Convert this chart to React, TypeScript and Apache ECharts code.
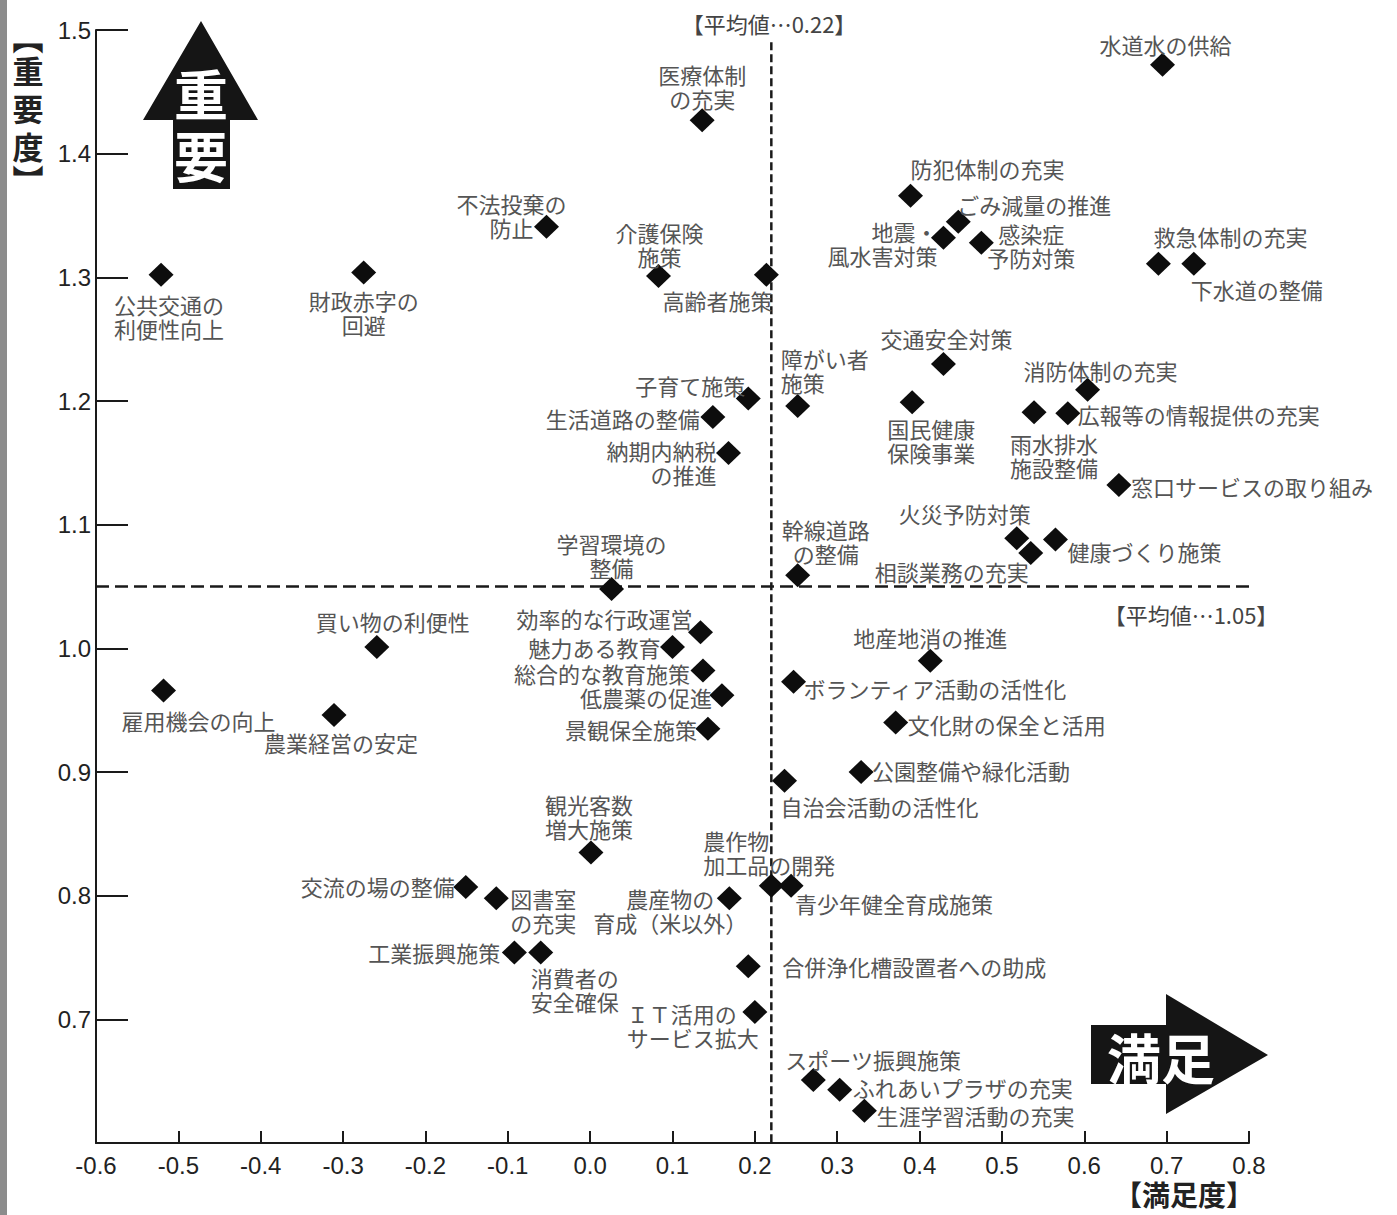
import React, { useEffect, useRef } from "react";
import * as echarts from "echarts";

// ---- data ----
const names: string[] = [
  "公共交通の\n利便性向上", "財政赤字の\n回避", "不法投棄の\n防止", "医療体制\nの充実", "介護保険\n施策",
  "高齢者施策", "水道水の供給", "防犯体制の充実", "ごみ減量の推進", "地震・\n風水害対策",
  "感染症\n予防対策", "救急体制の充実", "下水道の整備", "交通安全対策", "消防体制の充実",
  "障がい者\n施策", "国民健康\n保険事業", "雨水排水\n施設整備", "広報等の情報提供の充実", "子育て施策",
  "生活道路の整備", "納期内納税\nの推進", "窓口サービスの取り組み", "火災予防対策", "健康づくり施策",
  "相談業務の充実", "幹線道路\nの整備", "学習環境の\n整備", "買い物の利便性", "効率的な行政運営",
  "魅力ある教育", "総合的な教育施策", "低農薬の促進", "景観保全施策", "雇用機会の向上",
  "農業経営の安定", "地産地消の推進", "ボランティア活動の活性化", "文化財の保全と活用", "公園整備や緑化活動",
  "自治会活動の活性化", "観光客数\n増大施策", "交流の場の整備", "図書室\nの充実", "農産物の\n育成（米以外）",
  "農作物\n加工品の開発", "青少年健全育成施策", "工業振興施策", "消費者の\n安全確保", "合併浄化槽設置者への助成",
  "ＩＴ活用の\nサービス拡大", "スポーツ振興施策", "ふれあいプラザの充実", "生涯学習活動の充実",
];

// 満足度 (x)
const satisfaction: number[] = [
  -0.521, -0.275, -0.053, 0.136, 0.083,
  0.214, 0.695, 0.389, 0.447, 0.429,
  0.475, 0.690, 0.733, 0.429, 0.604,
  0.252, 0.391, 0.539, 0.580, 0.192,
  0.149, 0.168, 0.642, 0.518, 0.565,
  0.535, 0.252, 0.026, -0.259, 0.134,
  0.100, 0.137, 0.160, 0.143, -0.518,
  -0.311, 0.413, 0.247, 0.371, 0.329,
  0.236, 0.001, -0.151, -0.114, 0.169,
  0.220, 0.244, -0.092, -0.060, 0.192,
  0.200, 0.271, 0.303, 0.333,
];

// 重要度 (y)
const importance: number[] = [
  1.302, 1.304, 1.341, 1.427, 1.301,
  1.302, 1.472, 1.366, 1.345, 1.332,
  1.328, 1.311, 1.311, 1.230, 1.209,
  1.196, 1.199, 1.191, 1.190, 1.202,
  1.187, 1.158, 1.132, 1.089, 1.088,
  1.077, 1.059, 1.048, 1.001, 1.013,
  1.001, 0.982, 0.962, 0.935, 0.966,
  0.946, 0.990, 0.973, 0.940, 0.900,
  0.893, 0.835, 0.807, 0.798, 0.798,
  0.808, 0.808, 0.754, 0.754, 0.743,
  0.706, 0.651, 0.643, 0.626,
];

const satisfactionMean = 0.22;
const importanceMean = 1.05;
const meanLabelX = "【平均値…0.22】";
const meanLabelY = "【平均値…1.05】";

// ---- label placement (layout only) : [dx, dy, align] ----
const labelPlacement: [number, number, string][] = [
  [8, 41, "center"], [0, 40, "center"], [-35, -12, "center"], [0, -34, "center"], [1, -32, "center"],
  [-49, 25, "center"], [3, -21, "center"], [77, -28, "center"], [76, -18, "center"], [-6, 5, "right"],
  [50, 2, "center"], [72, -28, "center"], [63, 25, "center"], [3, -26, "center"], [13, -20, "center"],
  [-17, -36, "left"], [19, 38, "center"], [20, 43, "center"], [10, 1, "left"], [-3, -14, "right"],
  [-13, 1, "right"], [-12, 9, "right"], [12, 1, "left"], [-52, -25, "center"], [12, 11, "left"],
  [-2, 18, "right"], [28, -34, "center"], [0, -34, "center"], [16, -26, "center"], [-8, -14, "right"],
  [-12, 0, "right"], [-13, 2, "right"], [-10, 2, "right"], [-11, 0, "right"], [35, 30, "center"],
  [7, 27, "center"], [0, -24, "center"], [10, 6, "left"], [12, 1, "left"], [11, -2, "left"],
  [-4, 25, "left"], [-2, -36, "center"], [-11, -1, "right"], [14, 12, "left"], [-59, 12, "center"],
  [-68, -34, "left"], [4, 17, "left"], [-14, -1, "right"], [34, 36, "center"], [34, 0, "left"],
  [-128, 13, "left"], [-28, -21, "left"], [13, -3, "left"], [12, 4, "left"],
];

const fmt = (v: number) => (Math.abs(v) < 1e-9 ? "0.0" : v.toFixed(1));

export default function App() {
  const ref = useRef<HTMLDivElement>(null);

  useEffect(() => {
    document.body.style.margin = "0";
    if (!ref.current) return;
    const chart = echarts.init(ref.current, null, { renderer: "svg" });

    const scatterData = names.map((n, i) => {
      const [dx, dy, align] = labelPlacement[i];
      return {
        name: n,
        value: [satisfaction[i], importance[i]],
        label: {
          show: true,
          position: "inside",
          offset: [dx, dy],
          align,
          verticalAlign: "middle",
        },
      };
    });

    const labelFont = '"Noto Sans CJK JP", sans-serif';
    const boldCJK = 'bold 54px "Noto Sans CJK JP", sans-serif';

    chart.setOption({
      animation: false,
      backgroundColor: "#ffffff",
      grid: { left: 96, right: 148, top: 30, bottom: 72, containLabel: false },
      xAxis: {
        type: "value",
        min: -0.6,
        max: 0.8,
        interval: 0.1,
        axisLine: { show: true, onZero: false, lineStyle: { color: "#1a1a1a", width: 2 } },
        axisTick: { show: true, inside: true, length: 12, lineStyle: { color: "#1a1a1a", width: 2 } },
        splitLine: { show: false },
        axisLabel: {
          margin: 10,
          fontSize: 24,
          fontFamily: '"Liberation Sans", Arial, sans-serif',
          color: "#222",
          formatter: (v: number) => fmt(v),
        },
      },
      yAxis: {
        type: "value",
        min: 0.6,
        max: 1.5,
        interval: 0.1,
        axisLine: { show: true, onZero: false, lineStyle: { color: "#1a1a1a", width: 2 } },
        axisTick: { show: true, inside: true, length: 32, lineStyle: { color: "#1a1a1a", width: 2 } },
        splitLine: { show: false },
        axisLabel: {
          margin: 5,
          fontSize: 24,
          fontFamily: '"Liberation Sans", Arial, sans-serif',
          color: "#222",
          formatter: (v: number) => (Math.abs(v - 0.6) < 1e-6 ? "" : fmt(v)),
        },
      },
      series: [
        {
          type: "line",
          silent: true,
          symbol: "none",
          data: [
            [satisfactionMean, 1.49],
            [satisfactionMean, 0.6],
          ],
          lineStyle: { color: "#1a1a1a", width: 2.5, type: [8, 4] },
          z: 1,
        },
        {
          type: "line",
          silent: true,
          symbol: "none",
          data: [
            [-0.6, importanceMean],
            [0.8, importanceMean],
          ],
          lineStyle: { color: "#1a1a1a", width: 2.5, type: [13, 6] },
          z: 1,
        },
        {
          type: "scatter",
          symbol: "diamond",
          symbolSize: [25, 24],
          itemStyle: { color: "#0d0d0d", opacity: 1 },
          label: {
            show: true,
            formatter: "{b}",
            fontSize: 22,
            lineHeight: 24,
            fontFamily: labelFont,
            color: "#555",
          },
          data: scatterData,
          z: 3,
        },
      ],
      graphic: [
        // left grey strip
        { type: "rect", shape: { x: 0, y: 0, width: 7, height: 1215 }, style: { fill: "#8c8c8c" }, silent: true },
        // up arrow 重要
        {
          type: "polygon",
          shape: { points: [[201, 21], [258, 120], [230, 120], [230, 189], [173, 189], [173, 120], [143, 120]] },
          style: { fill: "#151515" },
          silent: true,
        },
        { type: "text", x: 201, y: 123, style: { text: "重\n要", fill: "#fff", font: boldCJK, lineHeight: 62, textAlign: "center", textVerticalAlign: "middle" }, silent: true },
        // right arrow 満足
        {
          type: "polygon",
          shape: { points: [[1091, 1025], [1166, 1025], [1166, 994], [1268, 1055], [1166, 1114], [1166, 1084], [1091, 1084]] },
          style: { fill: "#151515" },
          silent: true,
        },
        { type: "text", x: 1161, y: 1056, style: { text: "満足", fill: "#fff", font: boldCJK, textAlign: "center", textVerticalAlign: "middle" }, silent: true },
        // y axis name (vertical)
        {
          type: "text",
          x: 28,
          y: 107,
          style: {
            text: "{b|︻}\n{k|重}\n{k|要}\n{k|度}\n{b|︼}",
            fill: "#222",
            font: 'bold 31px "Noto Sans CJK JP", sans-serif',
            textAlign: "center",
            textVerticalAlign: "middle",
            rich: {
              b: { fontSize: 31, fontWeight: "bold", fontFamily: '"Noto Sans CJK JP", sans-serif', lineHeight: 28, fill: "#222", align: "center" },
              k: { fontSize: 31, fontWeight: "bold", fontFamily: '"Noto Sans CJK JP", sans-serif', lineHeight: 38, fill: "#222", align: "center" },
            },
          },
          silent: true,
        },
        // x axis name
        { type: "text", x: 1184, y: 1194, style: { text: "【満足度】", fill: "#222", font: 'bold 28px "Noto Sans CJK JP", sans-serif', textAlign: "center", textVerticalAlign: "middle" }, silent: true },
        // mean labels
        { type: "text", x: 769, y: 23, style: { text: meanLabelX, fill: "#444", font: '22px "Noto Sans CJK JP", sans-serif', textAlign: "center", textVerticalAlign: "middle" }, silent: true },
        { type: "text", x: 1191, y: 614, style: { text: meanLabelY, fill: "#444", font: '22px "Noto Sans CJK JP", sans-serif', textAlign: "center", textVerticalAlign: "middle" }, silent: true },
      ],
    });

    return () => chart.dispose();
  }, []);

  return <div ref={ref} style={{ width: 1397, height: 1215 }} />;
}
